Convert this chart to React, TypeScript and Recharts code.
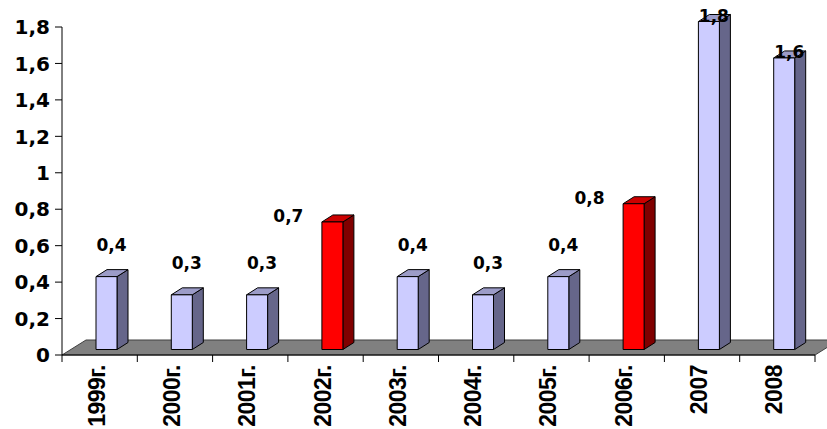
import { Bar, BarChart, LabelList, ReferenceArea, XAxis, YAxis } from "recharts";

const years = ["1999г.", "2000г.", "2001г.", "2002г.", "2003г.", "2004г.", "2005г.", "2006г.", "2007", "2008"];
const values = [0.4, 0.3, 0.3, 0.7, 0.4, 0.3, 0.4, 0.8, 1.8, 1.6];
const highlighted = ["2002г.", "2006г."];
const yTicks = [0, 0.2, 0.4, 0.6, 0.8, 1, 1.2, 1.4, 1.6, 1.8];

const data = years.map((year, i) => ({ year, value: values[i] }));

const FONT = "'Liberation Sans', Arial, sans-serif";
const WIDE = "'DejaVu Sans', Verdana, sans-serif";
// 3D look: front face shift and depth of side/top faces
const DX = 7;
const DY = -5.5;
const DEPTH_X = 11;
const DEPTH_Y = -7;

const comma = (v: number) => String(v).replace(".", ",");

function Bar3D(props: any) {
  const { x, y, width, height, payload } = props;
  const red = highlighted.includes(payload.year);
  const front = red ? "#ff0000" : "#ccccff";
  const top = red ? "#cc0000" : "#9c9cc8";
  const side = red ? "#800000" : "#66668a";
  const fx = x + DX;
  const fy = y + DY;
  const r = fx + width;
  return (
    <g stroke="#000" strokeWidth={1} strokeLinejoin="round">
      <polygon
        points={`${r},${fy} ${r + DEPTH_X},${fy + DEPTH_Y} ${r + DEPTH_X},${fy + height + DEPTH_Y} ${r},${fy + height}`}
        fill={side}
      />
      <polygon
        points={`${fx},${fy} ${fx + DEPTH_X},${fy + DEPTH_Y} ${r + DEPTH_X},${fy + DEPTH_Y} ${r},${fy}`}
        fill={top}
      />
      <rect x={fx} y={fy} width={width} height={height} fill={front} />
    </g>
  );
}

function Floor(props: any) {
  const { x, y, width, height } = props;
  const b = y + height;
  return (
    <polygon
      points={`${x},${b} ${x + width},${b} ${x + width + 24},${b - 15} ${x + 24},${b - 15}`}
      fill="#808080"
      stroke="#404040"
      strokeWidth={1}
    />
  );
}

function ValueLabel(props: any) {
  const { x, y, width, value, index } = props;
  const red = highlighted.includes(years[index]);
  const cx = red ? x + DX + width / 2 - 44 : x + DX + width / 2 + 5;
  const by = red || value >= 1 ? y + DY : y + DY - 26;
  return (
    <text x={cx} y={by} textAnchor="middle" fontFamily={WIDE} fontWeight="bold" fontSize={17} fill="#000">
      {comma(value)}
    </text>
  );
}

function YTick(props: any) {
  const { x, y, payload } = props;
  return (
    <text x={x} y={y} dy="0.36em" textAnchor="end" fontFamily={WIDE} fontWeight="bold" fontSize={20} fill="#000">
      {comma(payload.value)}
    </text>
  );
}

function XTick(props: any) {
  const { x, y, payload } = props;
  const half = payload.offset || 753 / 20;
  const axisY = y - 10;
  const last = payload.index === years.length - 1;
  const tx = x + 5;
  const ty = y;
  return (
    <g>
      <line x1={x - half} x2={x - half} y1={axisY} y2={axisY + 7} stroke="#000" />
      {last && <line x1={x + half} x2={x + half} y1={axisY} y2={axisY + 7} stroke="#000" />}
      <text
        x={tx}
        y={ty}
        transform={`rotate(-90, ${tx}, ${ty})`}
        textAnchor="end"
        fontFamily={FONT}
        fontWeight="bold"
        fontSize={23}
        letterSpacing={-0.5}
        fill="#000"
      >
        {payload.value}
      </text>
    </g>
  );
}

export default function App() {
  return (
    <div style={{ position: "absolute", left: 0, top: 0, background: "#fff" }}>
      <BarChart width={827} height={429} data={data} margin={{ top: 27, right: 12, left: 0, bottom: 0 }}>
        <ReferenceArea y1={0} y2={0.05} shape={<Floor />} ifOverflow="visible" />
        <XAxis
          dataKey="year"
          interval={0}
          height={74}
          tickLine={false}
          tickSize={7}
          tickMargin={3}
          axisLine={{ stroke: "#000" }}
          tick={<XTick />}
        />
        <YAxis
          domain={[0, 1.8]}
          ticks={yTicks}
          width={62}
          tickSize={7}
          tickMargin={5}
          axisLine={{ stroke: "#000" }}
          tickLine={{ stroke: "#000" }}
          tick={<YTick />}
        />
        <Bar dataKey="value" barSize={21} shape={<Bar3D />} isAnimationActive={false}>
          <LabelList dataKey="value" content={<ValueLabel />} />
        </Bar>
      </BarChart>
    </div>
  );
}
